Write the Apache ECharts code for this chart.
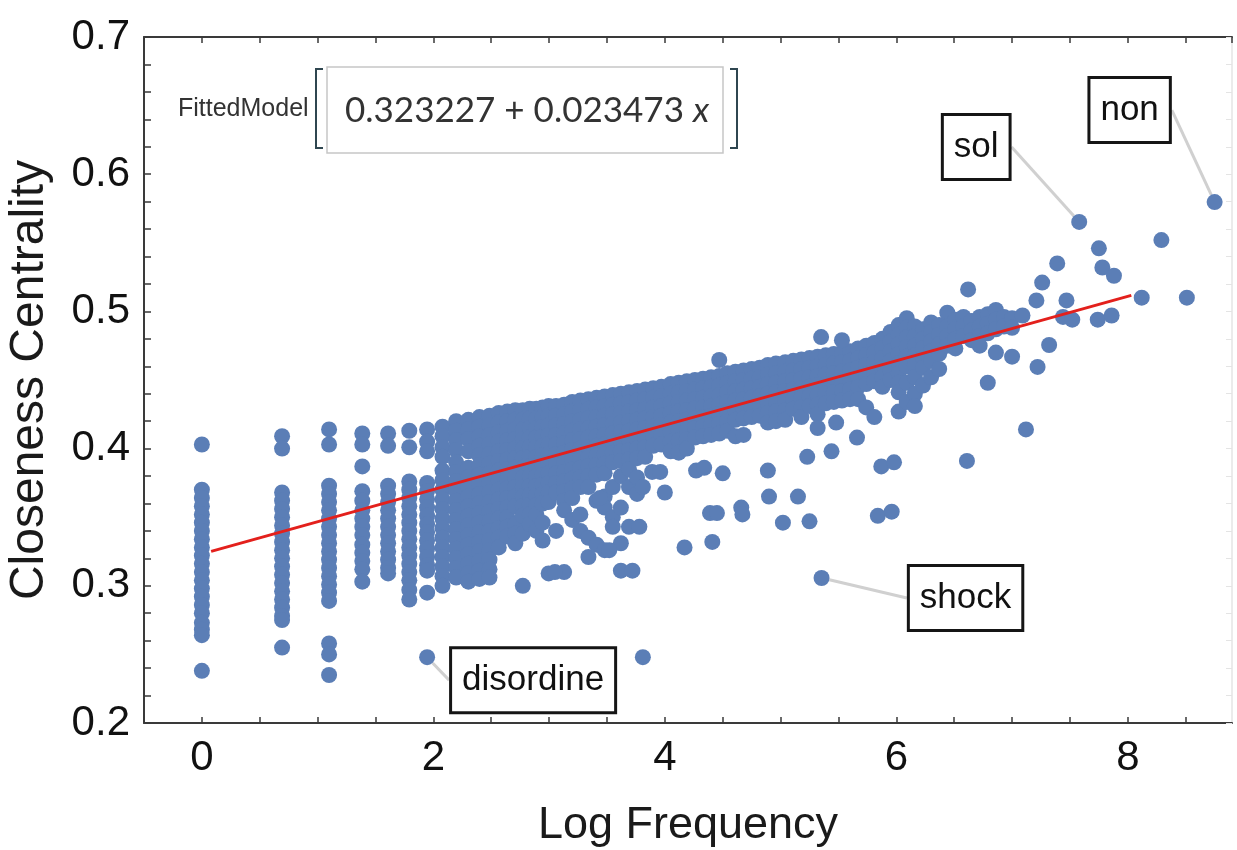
<!DOCTYPE html>
<html><head><meta charset="utf-8">
<script src="https://cdn.jsdelivr.net/npm/echarts@6/dist/echarts.min.js"></script>
<style>html,body{margin:0;background:#fff}#c{width:1237px;height:850px}</style>
</head><body><div id="c"></div>
<script>
// ---- data ----
const xTickLabels = [0, 2, 4, 6, 8];
const yTickLabels = [0.2, 0.3, 0.4, 0.5, 0.6, 0.7];

// column x values (log frequency)
const colX = [
  0, 0.693, 1.099, 1.386, 1.609, 1.792, 1.946,
  2.079, 2.197, 2.303, 2.398, 2.485, 2.565, 2.639, 2.708, 2.773, 2.833, 2.890, 2.944, 2.996,
  3.06, 3.13, 3.20, 3.27, 3.34, 3.41, 3.48, 3.55, 3.62, 3.69, 3.76, 3.83, 3.90, 3.97,
  4.05, 4.12, 4.19, 4.26, 4.33, 4.40, 4.47, 4.54, 4.61, 4.68, 4.75, 4.82, 4.89, 4.96,
  5.04, 5.11, 5.18, 5.25, 5.32, 5.39, 5.46, 5.53, 5.60, 5.67, 5.74, 5.81, 5.88, 5.95,
  6.02, 6.09, 6.16, 6.23, 6.30, 6.37, 6.44, 6.51, 6.58, 6.62, 6.65, 6.72, 6.79, 6.86, 6.93, 7.00
];
// closeness values in each column
const colY = [
  [0.403,0.370,0.364,0.358,0.352,0.346,0.340,0.334,0.328,0.322,0.316,0.310,0.304,0.298,0.292,0.286,0.280,0.273,0.268,0.264,0.238],
  [0.409,0.400,0.368,0.362,0.356,0.350,0.344,0.338,0.332,0.326,0.320,0.314,0.308,0.302,0.296,0.290,0.284,0.278,0.275,0.255],
  [0.414,0.403,0.373,0.367,0.361,0.355,0.349,0.343,0.337,0.331,0.325,0.319,0.313,0.307,0.301,0.295,0.289,0.258,0.250,0.235],
  [0.411,0.403,0.387,0.369,0.362,0.355,0.349,0.343,0.337,0.330,0.324,0.318,0.312,0.303],
  [0.411,0.402,0.373,0.367,0.361,0.355,0.349,0.343,0.337,0.331,0.325,0.319,0.313,0.309],
  [0.413,0.401,0.376,0.370,0.364,0.358,0.352,0.346,0.340,0.334,0.328,0.322,0.316,0.310,0.304,0.297,0.290],
  [0.414,0.405,0.398,0.375,0.369,0.363,0.357,0.351,0.345,0.339,0.333,0.327,0.321,0.315,0.311,0.295],
  [0.416,0.409,0.401,0.394,0.384,0.377,0.370,0.363,0.356,0.349,0.342,0.335,0.328,0.321,0.314,0.307,0.300],
  [0.420,0.413,0.406,0.399,0.390,0.383,0.376,0.369,0.362,0.355,0.348,0.341,0.334,0.327,0.320,0.313,0.306],
  [0.421,0.414,0.407,0.398,0.386,0.379,0.372,0.365,0.358,0.351,0.344,0.337,0.330,0.323,0.316,0.309,0.303],
  [0.423,0.416,0.409,0.402,0.395,0.388,0.381,0.374,0.367,0.360,0.353,0.346,0.339,0.332,0.325,0.318,0.311,0.305],
  [0.424,0.417,0.410,0.403,0.396,0.389,0.382,0.375,0.368,0.361,0.354,0.347,0.340,0.333,0.326,0.319,0.312,0.306],
  [0.426,0.419,0.412,0.405,0.398,0.391,0.384,0.377,0.370,0.363,0.356,0.349,0.342,0.335,0.328],
  [0.427,0.420,0.413,0.406,0.399,0.392,0.385,0.378,0.371,0.364,0.357,0.350,0.343,0.336],
  [0.428,0.421,0.414,0.407,0.400,0.393,0.386,0.379,0.372,0.365,0.358,0.345,0.338,0.331],
  [0.428,0.421,0.414,0.407,0.400,0.393,0.386,0.379,0.372,0.365,0.358,0.351,0.338,0.300],
  [0.429,0.422,0.415,0.408,0.401,0.394,0.387,0.380,0.373,0.366,0.359,0.352,0.345],
  [0.429,0.422,0.415,0.408,0.401,0.394,0.387,0.380,0.373,0.366,0.359,0.352,0.340],
  [0.430,0.423,0.416,0.409,0.402,0.395,0.388,0.381,0.374,0.367,0.360,0.346,0.333],
  [0.431,0.424,0.417,0.410,0.403,0.396,0.389,0.382,0.375,0.368,0.361,0.309],
  [0.431,0.424,0.417,0.410,0.403,0.396,0.389,0.382,0.375,0.368,0.340],
  [0.432,0.425,0.418,0.411,0.404,0.397,0.390,0.383,0.376,0.369,0.362,0.355,0.310],
  [0.434,0.427,0.420,0.413,0.406,0.399,0.392,0.385,0.378,0.371,0.364,0.348],
  [0.435,0.428,0.421,0.414,0.407,0.400,0.393,0.386,0.379,0.372,0.352,0.340],
  [0.436,0.429,0.422,0.415,0.408,0.401,0.394,0.387,0.380,0.372,0.335,0.321],
  [0.437,0.430,0.423,0.416,0.409,0.402,0.395,0.388,0.381,0.362,0.330],
  [0.438,0.431,0.424,0.417,0.410,0.403,0.396,0.389,0.382,0.365,0.357,0.326],
  [0.439,0.432,0.425,0.418,0.411,0.404,0.397,0.390,0.372,0.350,0.343],
  [0.440,0.433,0.426,0.419,0.412,0.405,0.398,0.391,0.380,0.357,0.331,0.311],
  [0.441,0.434,0.427,0.420,0.413,0.406,0.399,0.392,0.385,0.372,0.343],
  [0.442,0.435,0.428,0.421,0.414,0.407,0.400,0.393,0.379,0.367],
  [0.443,0.436,0.429,0.422,0.415,0.408,0.401,0.394],
  [0.444,0.437,0.430,0.423,0.416,0.409,0.402],
  [0.445,0.438,0.431,0.424,0.417,0.410,0.403],
  [0.447,0.440,0.433,0.426,0.419,0.412,0.405,0.398],
  [0.448,0.441,0.434,0.427,0.420,0.413,0.406,0.397],
  [0.449,0.442,0.435,0.428,0.421,0.414,0.407,0.400],
  [0.450,0.443,0.436,0.429,0.422,0.415,0.408],
  [0.451,0.444,0.437,0.430,0.423,0.416,0.409],
  [0.452,0.445,0.438,0.431,0.424,0.417,0.410],
  [0.453,0.446,0.439,0.432,0.425,0.418,0.411],
  [0.455,0.448,0.441,0.434,0.427,0.420,0.413],
  [0.456,0.449,0.442,0.435,0.428,0.421,0.409],
  [0.457,0.450,0.443,0.436,0.429,0.422,0.410],
  [0.458,0.451,0.444,0.437,0.430,0.423],
  [0.459,0.452,0.445,0.438,0.431,0.424],
  [0.461,0.454,0.447,0.440,0.433,0.426,0.419],
  [0.462,0.455,0.448,0.441,0.434,0.427,0.420],
  [0.463,0.456,0.449,0.442,0.435,0.428,0.421],
  [0.464,0.457,0.450,0.443,0.436,0.429],
  [0.465,0.458,0.451,0.444,0.437,0.430,0.423],
  [0.466,0.459,0.452,0.445,0.438,0.431],
  [0.467,0.460,0.453,0.446,0.439,0.432,0.425],
  [0.468,0.461,0.454,0.447,0.440,0.433],
  [0.469,0.462,0.455,0.448,0.441,0.434],
  [0.470,0.463,0.456,0.449,0.442,0.435],
  [0.471,0.464,0.457,0.450,0.443,0.436],
  [0.473,0.466,0.459,0.452,0.445,0.436],
  [0.475,0.468,0.461,0.454,0.447,0.430],
  [0.477,0.470,0.463,0.456,0.449,0.423],
  [0.480,0.473,0.466,0.459,0.452,0.445],
  [0.485,0.478,0.471,0.464,0.457,0.450],
  [0.490,0.483,0.476,0.469,0.462,0.455,0.448,0.441,0.427],
  [0.495,0.488,0.481,0.474,0.467,0.460,0.448,0.434],
  [0.489,0.482,0.475,0.468,0.461,0.452,0.440,0.431],
  [0.487,0.480,0.473,0.466,0.459,0.446],
  [0.492,0.485,0.478,0.471,0.464,0.452],
  [0.490,0.483,0.476,0.469,0.458],
  [0.499,0.489,0.482,0.475],
  [0.494,0.487,0.480,0.473],
  [0.496,0.489,0.482],
  [0.516],
  [0.493,0.486,0.479],
  [0.496,0.489,0.482,0.475],
  [0.498,0.491,0.484,0.448],
  [0.501,0.494,0.487,0.470],
  [0.496,0.489],
  [0.495,0.488,0.467]
];
// isolated points
const extraX = [3.81, 3.05, 3.72, 3.44, 3.52, 3.78, 3.81, 3.89, 3.96, 4.00, 4.27, 4.34, 4.50, 4.89,
  4.39, 4.45, 4.66, 4.67, 4.90, 5.15, 5.02, 5.25, 4.17, 4.41, 5.23, 5.44, 5.32, 5.48, 5.66,
  5.87, 5.98, 5.84, 5.96, 4.47, 5.35, 5.53, 6.61, 7.12,
  7.09, 7.21, 7.22, 7.26, 7.32, 7.39, 7.44, 7.47, 7.52, 7.74, 7.75, 7.78, 7.86, 7.88, 8.12, 8.29, 8.51];
const extraY = [0.248, 0.310, 0.311, 0.364, 0.326, 0.343, 0.372, 0.383, 0.383, 0.368, 0.384, 0.386, 0.382, 0.384,
  0.353, 0.353, 0.357, 0.352, 0.365, 0.365, 0.346, 0.347, 0.328, 0.332, 0.394, 0.398, 0.415, 0.419, 0.408,
  0.387, 0.390, 0.351, 0.354, 0.4646, 0.4813, 0.479, 0.391, 0.414,
  0.497, 0.508, 0.4595, 0.521, 0.4755, 0.535, 0.496, 0.508, 0.494, 0.494, 0.546, 0.532, 0.497, 0.526, 0.510, 0.552, 0.510];
// labelled words
const labelNames = ['disordine', 'shock', 'sol', 'non'];
const labelX = [1.946, 5.354, 7.58, 8.75];
const labelY = [0.248, 0.3057, 0.5652, 0.5797];
// fitted line end points: 0.323227 + 0.023473 x
const fitX = [0.08, 8.03];
const fitY = [0.325105, 0.511715];

// ---- build ----
const pts = [];
colX.forEach((x, i) => colY[i].forEach(y => pts.push([x, y])));
extraX.forEach((x, i) => pts.push([x, extraY[i]]));
const labPts = labelNames.map((n, i) => ({ name: n, value: [labelX[i], labelY[i]] }));
const fitPts = fitX.map((x, i) => [x, fitY[i]]);

// label offsets (pixels)
const labelOffsets = [[106, 23], [144, 20], [-103, -75], [-85, -92]];

const FONT = 'Liberation Sans, Arial, Helvetica, sans-serif';
const DOT = '#5b7eb6';
const AX = '#3a3a3a';
const near = (v, list) => list.some(t => Math.abs(v - t) < 1e-6);

const chart = echarts.init(document.getElementById('c'), null, { renderer: 'canvas' });
chart.setOption({
  animation: false,
  backgroundColor: '#fff',
  grid: { left: 144, right: 5, top: 37, bottom: 127, containLabel: false, outerBoundsMode: 'none' },
  xAxis: [{
    type: 'value', min: -0.5, max: 8.9, interval: 0.5,
    name: 'Log Frequency', nameLocation: 'middle', nameGap: 80,
    nameTextStyle: { fontFamily: FONT, fontSize: 45, color: '#1a1a1a' },
    axisLine: { show: true, onZero: false, lineStyle: { color: AX, width: 2 } },
    axisTick: { show: true, inside: true, length: 6, lineStyle: { color: AX, width: 1.5 } },
    axisLabel: { fontFamily: FONT, fontSize: 42, color: '#111', margin: 14,
      formatter: v => near(v, xTickLabels) ? String(Math.round(v)) : '' , showMinLabel: true, showMaxLabel: false},
    splitLine: { show: false }
  }, {
    type: 'value', position: 'top', min: -0.5, max: 8.9, interval: 0.5,
    axisLine: { show: true, onZero: false, lineStyle: { color: AX, width: 2 } },
    axisTick: { show: true, inside: true, length: 6, lineStyle: { color: AX, width: 1.5 } },
    axisLabel: { show: false }, splitLine: { show: false }
  }],
  yAxis: [{
    type: 'value', min: 0.2, max: 0.7, interval: 0.02,
    name: 'Closeness Centrality', nameLocation: 'middle', nameGap: 90, nameRotate: 90,
    nameTextStyle: { fontFamily: FONT, fontSize: 48, color: '#1a1a1a' },
    axisLine: { show: true, onZero: false, lineStyle: { color: AX, width: 2 } },
    axisTick: { show: true, inside: true, length: 7, lineStyle: { color: AX, width: 1.5 } },
    axisLabel: { fontFamily: FONT, fontSize: 42, color: '#111', margin: 14,
      formatter: v => near(v, yTickLabels) ? v.toFixed(1) : '' },
    splitLine: { show: false }
  }, {
    type: 'value', position: 'right', min: 0.2, max: 0.7, interval: 0.02,
    axisLine: { show: true, onZero: false, lineStyle: { color: '#e4e4e4', width: 1.5 } },
    axisTick: { show: true, inside: true, length: 6, lineStyle: { color: '#e4e4e4' } },
    axisLabel: { show: false }, splitLine: { show: false }
  }],
  series: [{
    type: 'scatter', data: pts, symbolSize: 16, silent: true,
    itemStyle: { color: DOT, opacity: 1 }, z: 2
  }, {
    type: 'line', data: fitPts, symbol: 'none', silent: true,
    lineStyle: { color: '#e3201c', width: 3 }, z: 3
  }, {
    type: 'scatter', data: labPts, symbolSize: 16, silent: true,
    itemStyle: { color: DOT, opacity: 1 }, z: 4,
    label: {
      show: true, position: 'inside', formatter: '{b}', opacity: 1,
      fontFamily: FONT, fontSize: 35, color: '#111',
      backgroundColor: '#fff', borderColor: '#151515', borderWidth: 3,
      textBorderWidth: 0, padding: [15, 10, 12, 10]
    },
    labelLayout: p => ({ dx: labelOffsets[p.dataIndex][0], dy: labelOffsets[p.dataIndex][1] }),
    labelLine: { show: true, lineStyle: { color: '#d0d0d0', width: 3, opacity: 1 } }
  }],
  graphic: [
    { type: 'text', left: 178, top: 97, style: { text: 'FittedModel', font: '25px ' + FONT, fill: '#333' } },
    { type: 'polyline', shape: { points: [[323, 69], [316, 69], [316, 148], [323, 148]] }, style: { stroke: '#2f4650', lineWidth: 2, fill: null } },
    { type: 'rect', shape: { x: 327, y: 67, width: 396, height: 86 }, style: { stroke: '#c6c6c6', lineWidth: 1.5, fill: '#fff' } },
    { type: 'text', left: 345, top: 93, style: {
      text: '{a|0.323227 + 0.023473 }{b|x}',
      rich: { a: { fontFamily: 'Lato, Open Sans, sans-serif', fontSize: 35, fill: '#333' },
              b: { fontFamily: 'Lato, Open Sans, sans-serif', fontSize: 35, fontStyle: 'italic', fill: '#333' } } } },
    { type: 'polyline', shape: { points: [[730, 69], [737, 69], [737, 148], [730, 148]] }, style: { stroke: '#2f4650', lineWidth: 2, fill: null } }
  ]
});
</script></body></html>
